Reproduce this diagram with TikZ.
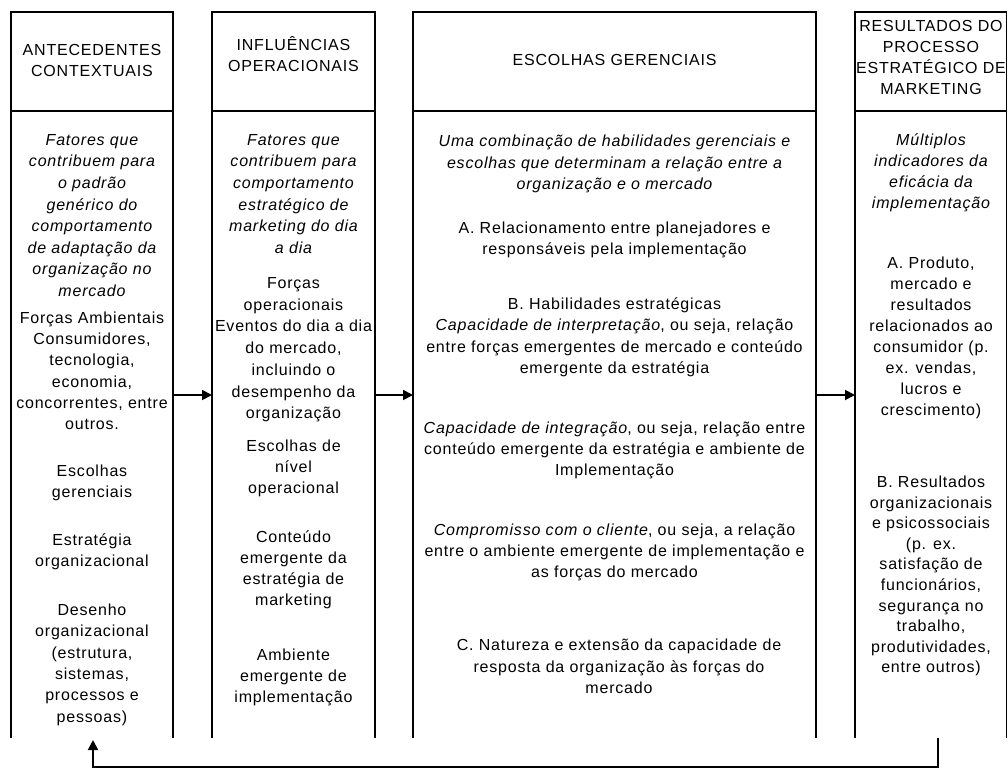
\documentclass[tikz,border=0pt]{standalone}
\usepackage{fontspec}
\setmainfont{Liberation Sans}[LetterSpace=5]
\usetikzlibrary{arrows.meta}
\tikzset{
  x=1pt, y=-1pt,
  frame/.style={line width=1.8pt},
  txt/.style={anchor=base, inner sep=0pt, font=\fontsize{16}{19}\selectfont},
  ital/.style={font=\fontsize{16}{19}\selectfont\itshape},
  arr/.style={line width=1.8pt, -{Triangle[length=10pt,width=10pt]}},
}
\newcommand\textlines[6][]{%
  \foreach \t [count=\i] in {#6} {\node[txt,#1] (#2\i) at (#3,{#4+(\i-1)*#5}) {\t};}}
\begin{document}
\begin{tikzpicture}
\useasboundingbox (0,0) rectangle (1008,770);
% column frames (open at the bottom)
\foreach \n/\l/\r in {c1/11/173, c2/212/375, c3/413/816, c4/855/1006.5} {
  \coordinate (\n tl) at (\l,12); \coordinate (\n tr) at (\r,12);
  \coordinate (\n bl) at (\l,738); \coordinate (\n br) at (\r,738);
  \coordinate (\n hl) at (\l,111); \coordinate (\n hr) at (\r,111);
  \draw[frame] (\n bl) -- (\n tl) -- (\n tr) -- (\n br);
  \draw[frame] (\n hl) -- (\n hr);
}
% column 1
\textlines{h1}{92}{55.5}{21}{ANTECEDENTES, CONTEXTUAIS}
\textlines[ital]{a1}{92}{145.5}{21.5}{Fatores que, contribuem para, o padrão, genérico do, comportamento, de adaptação da, organização no, mercado}
\textlines{b1}{92}{323.5}{21.2}{Forças Ambientais, {Consumidores,}, {tecnologia,}, {economia,}, {concorrentes, entre}, outros.}
\textlines{d1}{92}{476.5}{21}{Escolhas, gerenciais}
\textlines{e1}{92}{545.5}{21}{Estratégia, organizacional}
\textlines{f1}{92}{615.5}{21.3}{Desenho, organizacional, {(estrutura,}, {sistemas,}, processos e, pessoas)}
% column 2
\textlines{h2}{293.5}{50.5}{21}{INFLUÊNCIAS, OPERACIONAIS}
\textlines[ital]{a2}{293.5}{145.5}{21.5}{Fatores que, contribuem para, comportamento, estratégico de, marketing do dia, a dia}
\textlines{b2}{293.5}{288.5}{21.7}{Forças, operacionais, Eventos do dia a dia, {do mercado,}, incluindo o, desempenho da, organização}
\textlines{d2}{293.5}{451.5}{21}{Escolhas de, nível, operacional}
\textlines{e2}{293.5}{542.5}{21}{Conteúdo, emergente da, estratégia de, marketing}
\textlines{f2}{293.5}{660.5}{21}{Ambiente, emergente de, implementação}
% column 3
\textlines{h3}{614.5}{65.5}{21}{ESCOLHAS GERENCIAIS}
\textlines[ital]{a3}{614.5}{146.5}{21.5}{Uma combinação de habilidades gerenciais e, escolhas que determinam a relação entre a, organização e o mercado}
\textlines{b3}{614.5}{233.5}{21}{A. Relacionamento entre planejadores e, responsáveis pela implementação}
\textlines{d3}{614.5}{309.5}{21.3}{B. Habilidades estratégicas, {\textit{Capacidade de interpretação}, ou seja, relação}, entre forças emergentes de mercado e conteúdo, emergente da estratégia}
\textlines{e3}{614.5}{433.5}{21}{{\textit{Capacidade de integração}, ou seja, relação entre}, conteúdo emergente da estratégia e ambiente de, Implementação}
\textlines{f3}{614.5}{535.5}{21}{{\textit{Compromisso com o cliente}, ou seja, a relação}, entre o ambiente emergente de implementação e, as forças do mercado}
\textlines{g3}{619}{650.5}{21.5}{C. Natureza e extensão da capacidade de, resposta da organização às forças do, mercado}
% column 4
\textlines{h4}{931}{31.5}{21}{RESULTADOS DO, PROCESSO, ESTRATÉGICO DE, MARKETING}
\textlines[ital]{a4}{931}{145.5}{21}{Múltiplos, indicadores da, eficácia da, implementação}
\textlines{b4}{931}{268.5}{21}{{A. Produto,}, mercado e, resultados, relacionados ao, consumidor (p., {ex. vendas,}, lucros e, crescimento)}
\textlines{d4}{931}{487.5}{20.6}{B. Resultados, organizacionais, e psicossociais, {(p. ex.}, satisfação de, {funcionários,}, segurança no, {trabalho,}, {produtividades,}, entre outros)}
% connectors
\coordinate (c1R) at (173,395); \coordinate (c2L) at (212,395);
\coordinate (c2R) at (375,395); \coordinate (c3L) at (413,395);
\coordinate (c3R) at (816,395); \coordinate (c4L) at (855,395);
\draw[arr] (c1R) -- (c2L);
\draw[arr] (c2R) -- (c3L);
\draw[arr] (c3R) -- (c4L);
\coordinate (fbS) at (938,738); \coordinate (fbB) at (938,767);
\coordinate (fbE) at (93,740);
\draw[arr] (fbS) -- (fbB) -| (fbE);
\end{tikzpicture}
\end{document}
